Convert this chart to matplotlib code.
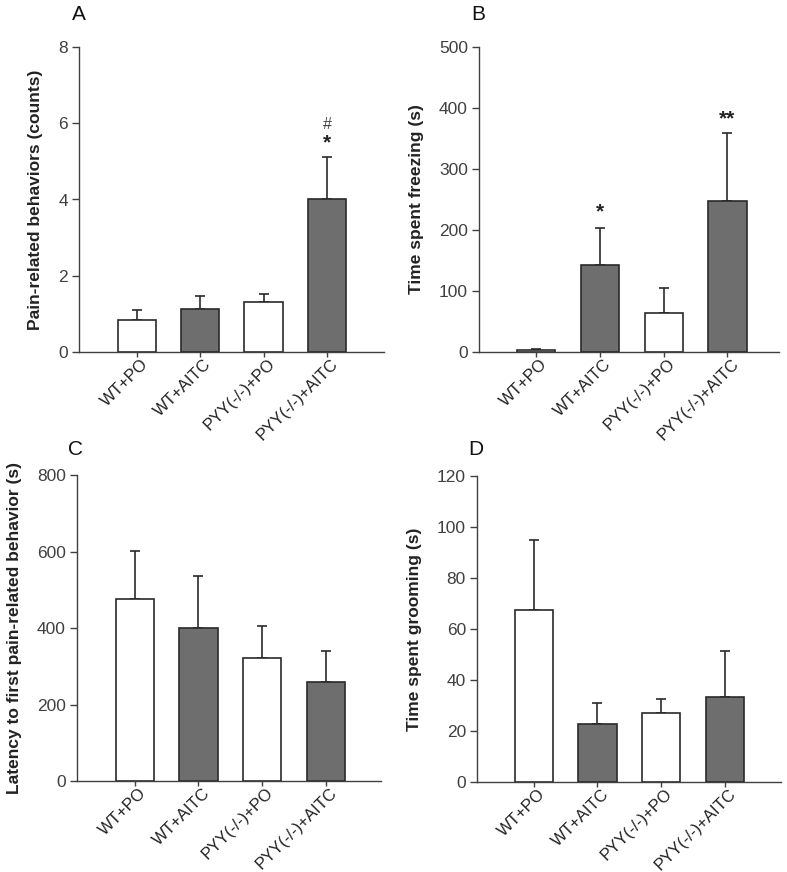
import matplotlib
matplotlib.use("Agg")
import matplotlib.pyplot as plt
import matplotlib.transforms as mtransforms
import numpy as np

plt.rcParams['font.family'] = ['Liberation Sans', 'DejaVu Sans']

groups = ["WT+PO", "WT+AITC", "PYY(-/-)+PO", "PYY(-/-)+AITC"]
fills = ["white", "#6e6e6e", "white", "#6e6e6e"]

pain_mean = [0.85, 1.12, 1.32, 4.0]
pain_err = [0.25, 0.36, 0.21, 1.12]

freeze_mean = [4, 143, 64, 247]
freeze_err = [1.5, 60, 41, 112]

latency_mean = [477, 400, 321, 258]
latency_err = [124, 136, 85, 82]

groom_mean = [67.3, 22.6, 27.1, 33.2]
groom_err = [27.5, 8.5, 5.3, 18.3]

W, H = 787, 872
fig = plt.figure(figsize=(W / 100, H / 100), dpi=100)

def ax_at(l, t, r, b):
    return fig.add_axes([l / W, 1 - b / H, (r - l) / W, (b - t) / H])

panels = [
    dict(box=(79, 47, 384, 352), mean=pain_mean, err=pain_err, ymax=8, yticks=[0, 2, 4, 6, 8],
         ylabel="Pain-related behaviors (counts)", xlim=(-0.91, 3.9), letter="A", lxy=(72, 20)),
    dict(box=(479, 47, 779, 352), mean=freeze_mean, err=freeze_err, ymax=500, yticks=[0, 100, 200, 300, 400, 500],
         ylabel="Time spent freezing (s)", xlim=(-0.9, 3.81), letter="B", lxy=(471, 20)),
    dict(box=(77, 475, 381, 781), mean=latency_mean, err=latency_err, ymax=800, yticks=[0, 200, 400, 600, 800],
         ylabel="Latency to first pain-related behavior (s)", xlim=(-0.91, 3.87), letter="C", lxy=(68, 455)),
    dict(box=(477, 476, 781, 782), mean=groom_mean, err=groom_err, ymax=120, yticks=[0, 20, 40, 60, 80, 100, 120],
         ylabel="Time spent grooming (s)", xlim=(-0.89, 3.88), letter="D", lxy=(468, 455)),
]

shift = mtransforms.ScaledTranslation(6.5 / 72, 0, fig.dpi_scale_trans)

axes = []
for p in panels:
    ax = ax_at(*p["box"])
    x = np.arange(len(groups))
    ax.bar(x, p["mean"], width=0.6, color=fills, edgecolor="#2a2a2a", linewidth=1.2, zorder=3)
    ax.errorbar(x, p["mean"], yerr=[np.zeros(4), p["err"]], fmt="none", ecolor="#2a2a2a",
                elinewidth=1.2, capsize=3.3, capthick=1.2, zorder=2)
    ax.set_ylim(0, p["ymax"])
    ax.set_xlim(*p["xlim"])
    ax.set_yticks(p["yticks"])
    ax.set_xticks(x)
    ax.set_xticklabels(groups, rotation=45, ha="right", va="center", rotation_mode="anchor",
                       fontsize=12, color="#222222")
    ax.tick_params(axis="y", labelsize=12.5, colors="#404040", length=5, width=1, direction="out", pad=3)
    ax.tick_params(axis="x", length=3.4, width=1, direction="out", colors="#404040", pad=3.5)
    for lab in ax.get_xticklabels():
        lab.set_color("#222222")
        lab.set_transform(lab.get_transform() + shift)
    for lab in ax.get_yticklabels():
        lab.set_color("#404040")
    ax.set_ylabel(p["ylabel"], fontsize=12.5, fontweight="bold", color="#222222", labelpad=11)
    ax.spines["top"].set_visible(False)
    ax.spines["right"].set_visible(False)
    for s in ("left", "bottom"):
        ax.spines[s].set_color("#404040")
        ax.spines[s].set_linewidth(1.0)
    fig.text(p["lxy"][0] / W, 1 - p["lxy"][1] / H, p["letter"], fontsize=15, ha="left", va="baseline",
             color="#111111")
    axes.append(ax)

# significance markers
axA, axB = axes[0], axes[1]
axA.text(3, 5.48, "*", ha="center", va="center", fontsize=15, fontweight="bold", color="#222222")
axA.text(3, 5.98, "#", ha="center", va="center", fontsize=11.5, color="#444444")
axB.text(1, 230, "*", ha="center", va="center", fontsize=15, fontweight="bold", color="#222222")
axB.text(3, 382, "**", ha="center", va="center", fontsize=15, fontweight="bold", color="#222222")

fig.savefig("out.png", dpi=100, facecolor="white")
